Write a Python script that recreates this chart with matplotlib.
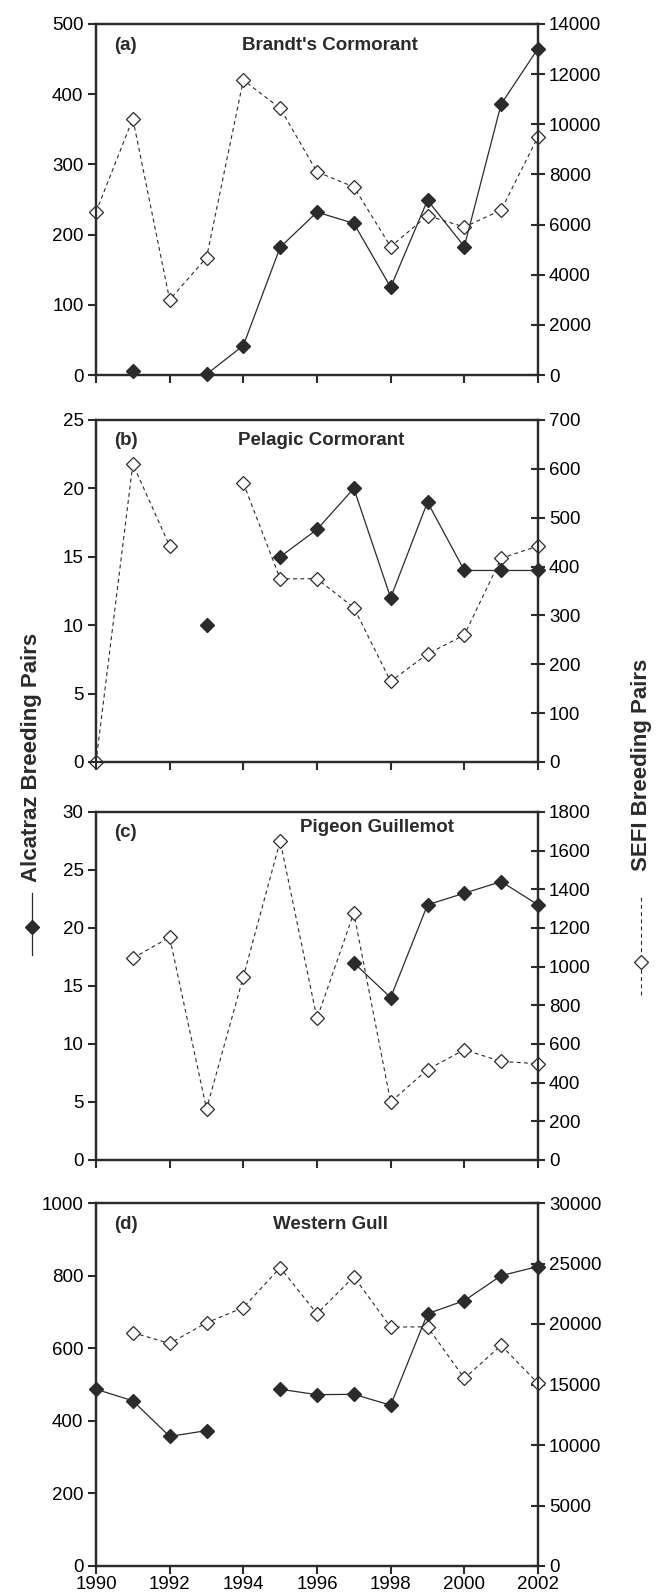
import numpy as np
import matplotlib
matplotlib.use('Agg')
import matplotlib.pyplot as plt
from matplotlib.lines import Line2D

plt.rcParams['font.family'] = ['Liberation Sans', 'DejaVu Sans']

nan = np.nan
years = list(range(1990, 2003))

# (a) Brandt's Cormorant
brandt_alc = [nan, 5, nan, 1, 42, 182, 232, 216, 125, 249, 183, 386, 465]
brandt_sefi = [6500, 10220, 3000, 4680, 11760, 10640, 8100, 7500, 5120, 6360, 5900, 6580, 9500]
# (b) Pelagic Cormorant
pelagic_alc = [nan, nan, nan, 10, nan, 15, 17, 20, 12, 19, 14, 14, 14]
pelagic_sefi = [0, 610, 442, nan, 571, 375, 375, 316, 165, 221, 260, 417, 442]
# (c) Pigeon Guillemot
guill_alc = [nan, nan, nan, nan, nan, nan, nan, 17, 14, 22, 23, 24, 22]
guill_sefi = [nan, 1044, 1152, 264, 948, 1650, 732, 1278, 300, 468, 570, 510, 498]
# (d) Western Gull
gull_alc = [487, 455, 357, 373, nan, 487, 472, 473, 443, 695, 731, 800, 825]
gull_sefi = [nan, 19290, 18390, 20100, 21360, 24660, 20850, 23910, 19740, 19770, 15510, 18240, 15090]

panels = [
    ('(a)', "Brandt's Cormorant", brandt_alc, brandt_sefi, 500, 100, 14000, 2000, 0.53, 0.94),
    ('(b)', 'Pelagic Cormorant', pelagic_alc, pelagic_sefi, 25, 5, 700, 100, 0.51, 0.94),
    ('(c)', 'Pigeon Guillemot', guill_alc, guill_sefi, 30, 5, 1800, 200, 0.635, 0.955),
    ('(d)', 'Western Gull', gull_alc, gull_sefi, 1000, 200, 30000, 5000, 0.53, 0.94),
]

W, H = 664, 1594
fig = plt.figure(figsize=(W / 100, H / 100), dpi=100)
# panel boxes in pixels: (top, bottom)
boxes = [(24, 375), (420, 762), (812, 1160), (1203, 1566)]
left, right = 96, 538

DARK = '#2b2b2b'
FS = 13.5
DASH = (0, (3.5, 3))

for i, (tag, name, alc, sefi, lmax, lstep, rmax, rstep, tx, ty) in enumerate(panels):
    top, bot = boxes[i]
    ax = fig.add_axes([left / W, 1 - bot / H, (right - left) / W, (bot - top) / H])
    ax2 = ax.twinx()
    ax2.plot(years, sefi, ls=DASH, lw=0.8, color=DARK, marker='D', ms=7.5,
             mfc='white', mec=DARK, mew=0.9, clip_on=False, zorder=3)
    ax.plot(years, alc, ls='-', lw=0.9, color=DARK, marker='D', ms=7.5,
            mfc=DARK, mec=DARK, clip_on=False, zorder=4)
    ax.set_zorder(ax2.get_zorder() + 1)
    ax.patch.set_visible(False)

    ax.set_xlim(1990, 2002)
    ax.set_ylim(0, lmax)
    ax2.set_ylim(0, rmax)
    ax.set_yticks(np.arange(0, lmax + lstep / 2, lstep))
    ax2.set_yticks(np.arange(0, rmax + rstep / 2, rstep))
    ax.set_xticks(range(1990, 2003, 2))
    if i < 3:
        ax.set_xticklabels([])

    for a in (ax, ax2):
        for s in a.spines.values():
            s.set_linewidth(1.6)
            s.set_color(DARK)
    ax.tick_params(axis='x', direction='out', length=6, width=1.5, color=DARK,
                   labelsize=FS, pad=1)
    ax.tick_params(axis='y', direction='out', length=6, width=1.5, color=DARK,
                   labelsize=FS, pad=3)
    ax2.tick_params(axis='y', direction='inout', length=10, width=1.5, color=DARK,
                    labelsize=FS, pad=3)

    ax.text(0.04, 0.94, tag, transform=ax.transAxes, fontsize=13.5, fontweight='bold',
            ha='left', va='center', color=DARK)
    ax.text(tx, ty, name, transform=ax.transAxes, fontsize=13.5,
            fontweight='bold', ha='center', va='center', color=DARK)

# left axis label with key
LX = 32 / W
fig.text(LX, 1 - 757 / H, 'Alcatraz Breeding Pairs', rotation=90, fontsize=16,
         fontweight='bold', ha='center', va='center', color=DARK)
fig.add_artist(Line2D([LX, LX], [1 - 955 / H, 1 - 893 / H], transform=fig.transFigure,
                      color=DARK, lw=0.9))
fig.add_artist(Line2D([LX], [1 - 927 / H], transform=fig.transFigure, marker='D', ms=7.5,
                      mfc=DARK, mec=DARK, ls='none'))

# right axis label with key
RX = 641 / W
fig.text(RX, 1 - 765 / H, 'SEFI Breeding Pairs', rotation=90, fontsize=16,
         fontweight='bold', ha='center', va='center', color=DARK)
fig.add_artist(Line2D([RX, RX], [1 - 995 / H, 1 - 895 / H], transform=fig.transFigure,
                      color=DARK, lw=0.8, ls=DASH))
fig.add_artist(Line2D([RX], [1 - 962 / H], transform=fig.transFigure, marker='D', ms=7.5,
                      mfc='white', mec=DARK, mew=0.9, ls='none'))

fig.savefig('out.png', dpi=100, facecolor='white')
